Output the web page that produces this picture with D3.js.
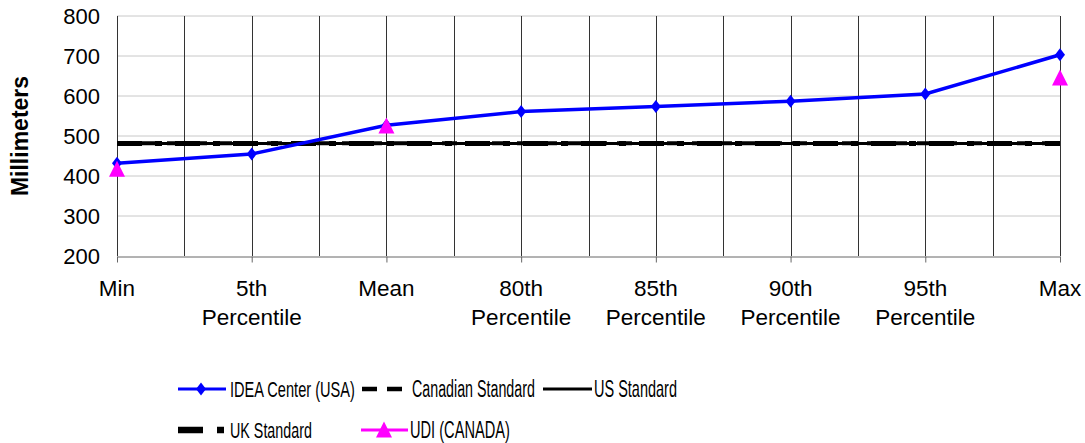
<!DOCTYPE html>
<html>
<head>
<meta charset="utf-8">
<script src="https://cdn.jsdelivr.net/npm/d3@7"></script>
<style>
  html, body { margin: 0; padding: 0; background: #fff; }
  svg { display: block; font-family: "Liberation Sans", Arial, sans-serif; }
</style>
</head>
<body>
<svg id="chart" width="1085" height="443"></svg>
<script>
// Anthropometric measurement summary (millimeters)
const categories = ["Min", "5th Percentile", "Mean", "80th Percentile", "85th Percentile",
                    "90th Percentile", "95th Percentile", "Max"];
const ideaCenter = [432, 455, 527, 561, 574, 587, 605, 703];
const udiCanada = [417, null, 525, null, null, null, null, 645];
const canadianStandard = [482, 482, 482, 482, 482, 482, 482, 482];
const usStandard = [481, 481, 481, 481, 481, 481, 481, 481];
const ukStandard = [481, 481, 481, 481, 481, 481, 481, 481];
const yTicks = [200, 300, 400, 500, 600, 700, 800];

const svg = d3.select("#chart");
const plotLeft = 117, plotRight = 1060, plotTop = 16, plotBottom = 256;

const x = d3.scalePoint().domain(categories).range([plotLeft, plotRight]);
const y = d3.scaleLinear().domain([200, 800]).range([plotBottom, plotTop]);

// horizontal gridlines
svg.append("g").selectAll("line").data(yTicks.filter(d => d > 200)).join("line")
  .attr("x1", plotLeft).attr("x2", plotRight)
  .attr("y1", d => y(d)).attr("y2", d => y(d))
  .attr("stroke", "#c8c8c8").attr("stroke-width", 1);

// vertical lines at each category and halfway between them
const step = x.step();
const vPos = [];
categories.forEach((c, i) => {
  vPos.push(x(c));
  if (i < categories.length - 1) vPos.push(x(c) + step / 2);
});
svg.append("g").selectAll("line").data(vPos).join("line")
  .attr("x1", d => Math.round(d) + 0.5).attr("x2", d => Math.round(d) + 0.5)
  .attr("y1", plotTop).attr("y2", plotBottom)
  .attr("stroke", "#333").attr("stroke-width", 1);

// bottom axis
const xAxis = svg.append("g")
  .attr("transform", `translate(0,${plotBottom + 0.5})`)
  .call(d3.axisBottom(x).tickSize(6).tickSizeOuter(0).tickFormat(""));
xAxis.select(".domain").attr("stroke", "#666");
xAxis.selectAll(".tick line").attr("stroke", "#666");

const xl = svg.append("g").selectAll("text").data(categories).join("text")
  .attr("x", d => x(d)).attr("y", 296)
  .attr("text-anchor", "middle").attr("font-size", 22.5).attr("fill", "#000");
xl.each(function(d) {
  const parts = d.split(" ");
  const t = d3.select(this);
  parts.forEach((p, i) => {
    t.append("tspan").attr("x", x(d)).attr("dy", i === 0 ? 0 : 29).text(p);
  });
});

// left axis labels
const yAxis = svg.append("g")
  .attr("transform", `translate(${plotLeft - 17},0)`)
  .call(d3.axisLeft(y).tickValues(yTicks).tickSize(0).tickPadding(0));
yAxis.select(".domain").remove();
yAxis.selectAll("text").attr("font-size", 22).attr("fill", "#000")
  .attr("font-family", "Liberation Sans, Arial, sans-serif");

svg.append("text")
  .attr("transform", `translate(28,${(plotTop + plotBottom) / 2}) rotate(-90)`)
  .attr("text-anchor", "middle").attr("font-size", 23).attr("font-weight", "bold")
  .text("Millimeters");

const lineGen = arr => d3.line()
  .defined(d => d != null)
  .x((d, i) => x(categories[i]))
  .y(d => y(d))(arr);

// reference standards
svg.append("path").attr("d", lineGen(usStandard))
  .attr("fill", "none").attr("stroke", "#000").attr("stroke-width", 3);
svg.append("path").attr("d", lineGen(canadianStandard))
  .attr("fill", "none").attr("stroke", "#000").attr("stroke-width", 4)
  .attr("stroke-dasharray", "15,10");
svg.append("path").attr("d", lineGen(ukStandard))
  .attr("fill", "none").attr("stroke", "#000").attr("stroke-width", 5)
  .attr("stroke-dasharray", "25,13,7,13");

// IDEA Center series
svg.append("path").attr("d", lineGen(ideaCenter))
  .attr("fill", "none").attr("stroke", "#0000ff").attr("stroke-width", 3.5);
const diamond = "M0,-6.5L5,0L0,6.5L-5,0Z";
svg.append("g").selectAll("path").data(ideaCenter).join("path")
  .attr("d", diamond)
  .attr("transform", (d, i) => `translate(${x(categories[i])},${y(d)})`)
  .attr("fill", "#0000ff");

// UDI markers
const tri = "M0,-8.5L8,7.5L-8,7.5Z";
svg.append("g").selectAll("path")
  .data(udiCanada.map((v, i) => ({v, i})).filter(d => d.v != null)).join("path")
  .attr("d", tri)
  .attr("transform", d => `translate(${x(categories[d.i])},${y(d.v)})`)
  .attr("fill", "#ff00ff");

// legend (labels are narrowed horizontally to fit their slots)
const lg = svg.append("g").attr("fill", "#000");
function legendText(tx, ty, label, len) {
  const g = lg.append("g");
  const t = g.append("text").attr("x", 0).attr("y", 0).attr("font-size", 23).text(label);
  const w = t.node().getComputedTextLength();
  g.attr("transform", `translate(${tx},${ty}) scale(${len / w},1)`);
}
const r1 = 389, r2 = 430;
// IDEA Center (USA)
lg.append("line").attr("x1", 178).attr("x2", 226).attr("y1", r1).attr("y2", r1)
  .attr("stroke", "#0000ff").attr("stroke-width", 3);
lg.append("path").attr("d", diamond).attr("transform", `translate(201,${r1})`).attr("fill", "#0000ff");
legendText(230, r1 + 8, "IDEA Center (USA)", 125);
// Canadian Standard
lg.append("line").attr("x1", 362).attr("x2", 403).attr("y1", r1).attr("y2", r1)
  .attr("stroke", "#000").attr("stroke-width", 4.5).attr("stroke-dasharray", "15,10");
legendText(412, r1 + 8, "Canadian Standard", 123);
// US Standard
lg.append("line").attr("x1", 543).attr("x2", 592).attr("y1", r1).attr("y2", r1)
  .attr("stroke", "#000").attr("stroke-width", 3);
legendText(594, r1 + 8, "US Standard", 83);
// UK Standard
lg.append("line").attr("x1", 178).attr("x2", 224).attr("y1", r2).attr("y2", r2)
  .attr("stroke", "#000").attr("stroke-width", 6.5).attr("stroke-dasharray", "25,14,7,20");
legendText(230, r2 + 8, "UK Standard", 82);
// UDI (CANADA)
lg.append("line").attr("x1", 361).attr("x2", 408).attr("y1", r2).attr("y2", r2)
  .attr("stroke", "#ff00ff").attr("stroke-width", 3);
lg.append("path").attr("d", tri).attr("transform", `translate(384,${r2})`).attr("fill", "#ff00ff");
legendText(410, r2 + 8, "UDI (CANADA)", 100);
</script>
</body>
</html>
